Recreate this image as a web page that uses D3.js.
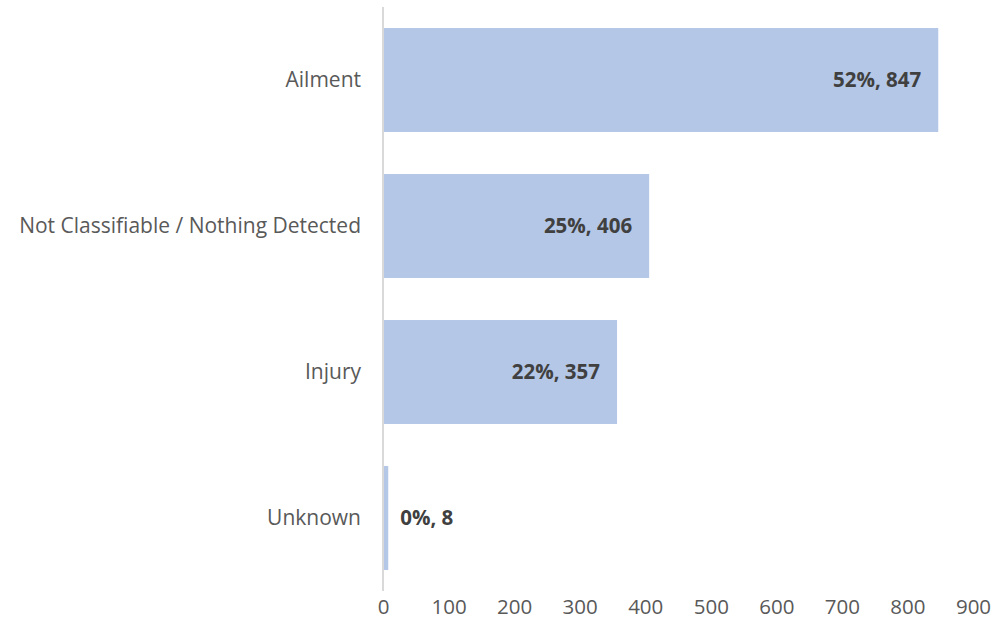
<!DOCTYPE html>
<html>
<head>
<meta charset="utf-8">
<script src="https://cdn.jsdelivr.net/npm/d3@7"></script>
<style>
  body { margin: 0; background: #fff; }
  svg { display: block; font-family: "Open Sans", "Liberation Sans", sans-serif; }
</style>
</head>
<body>
<svg id="chart" width="995" height="634"></svg>
<script>
// chart data
const categories = ["Ailment", "Not Classifiable / Nothing Detected", "Injury", "Unknown"];
const counts = [847, 406, 357, 8];
const percents = ["52%", "25%", "22%", "0%"];
const xTicks = [0, 100, 200, 300, 400, 500, 600, 700, 800, 900];

const svg = d3.select("#chart");

// plot area
const plotLeft = 383, plotRight = 973, plotTop = 7, plotBottom = 591;

const x = d3.scaleLinear().domain([0, 900]).range([plotLeft, plotRight]);
const y = d3.scaleBand().domain(categories).range([plotTop, plotBottom]).paddingInner(0.288).paddingOuter(0.144);

// bars
svg.append("g").selectAll("rect")
  .data(categories)
  .join("rect")
  .attr("x", x(0))
  .attr("y", d => y(d))
  .attr("width", (d, i) => x(counts[i]) - x(0))
  .attr("height", y.bandwidth())
  .attr("fill", "#b4c7e7");

// vertical axis line
svg.append("line")
  .attr("x1", x(0)).attr("x2", x(0))
  .attr("y1", plotTop).attr("y2", plotBottom)
  .attr("stroke", "#d9d9d9")
  .attr("stroke-width", 2);

// category labels
svg.append("g").selectAll("text")
  .data(categories)
  .join("text")
  .attr("x", x(0) - 22)
  .attr("y", d => y(d) + y.bandwidth() / 2)
  .attr("dy", "0.35em")
  .attr("text-anchor", "end")
  .attr("font-size", 21)
  .attr("fill", "#595959")
  .text(d => d);

// data labels: inside end for big bars, outside for tiny ones
svg.append("g").selectAll("text")
  .data(categories)
  .join("text")
  .each(function(d, i) {
    const inside = x(counts[i]) - x(0) > 100;
    d3.select(this)
      .attr("x", inside ? x(counts[i]) - 17 : x(counts[i]) + 12)
      .attr("text-anchor", inside ? "end" : "start");
  })
  .attr("y", d => y(d) + y.bandwidth() / 2)
  .attr("dy", "0.35em")
  .attr("font-size", 20.5)
  .attr("font-weight", "bold")
  .attr("fill", "#404040")
  .text((d, i) => `${percents[i]}, ${counts[i]}`);

// x axis tick labels
const xAxis = d3.axisBottom(x).tickValues(xTicks).tickSize(0).tickPadding(0);
const gx = svg.append("g")
  .attr("transform", `translate(0,${plotBottom + 8})`)
  .call(xAxis);
gx.select(".domain").remove();
gx.selectAll("text")
  .attr("font-size", 20.5)
  .attr("font-family", "\"Open Sans\", sans-serif")
  .attr("fill", "#595959");
</script>
</body>
</html>
